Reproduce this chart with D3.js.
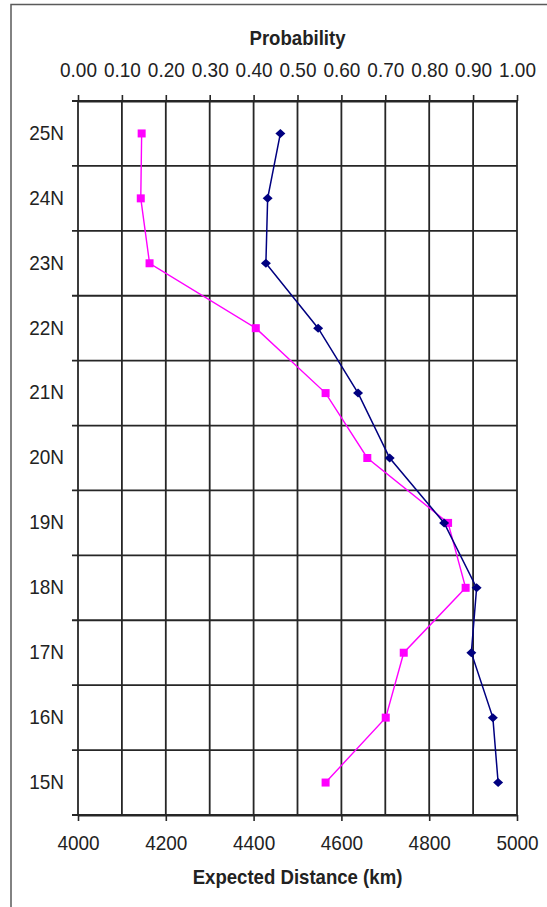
<!DOCTYPE html>
<html>
<head>
<meta charset="utf-8">
<script src="https://cdn.jsdelivr.net/npm/d3@7/dist/d3.min.js"></script>
<style>
  html, body { margin: 0; padding: 0; background: #fff; }
  svg { display: block; }
  text { font-family: "Liberation Sans", Arial, sans-serif; fill: #222; }
</style>
</head>
<body>
<div id="chart"></div>
<script>
// Latitude bands, listed from top to bottom
const latitudes = ["25N", "24N", "23N", "22N", "21N", "20N", "19N", "18N", "17N", "16N", "15N"];

// Expected distance (km) per latitude — navy diamonds, bottom axis
const expectedDistance = [4461, 4432, 4428, 4547, 4638, 4710, 4834, 4908, 4896, 4945, 4957];

// Probability per latitude — magenta squares, top axis
const probability = [0.145, 0.143, 0.163, 0.405, 0.564, 0.659, 0.843, 0.883, 0.742, 0.701, 0.564];

// Axis ticks
const probTicks = [0, 0.1, 0.2, 0.3, 0.4, 0.5, 0.6, 0.7, 0.8, 0.9, 1.0];
const distGrid = [4000, 4100, 4200, 4300, 4400, 4500, 4600, 4700, 4800, 4900, 5000];
const distTicks = [4000, 4200, 4400, 4600, 4800, 5000];

const W = 547, H = 907;
const plotLeft = 78, plotRight = 517, plotTop = 101, plotBottom = 815;
const narrow = 0.95;   // slightly condensed lettering

const svg = d3.select("#chart").append("svg")
  .attr("width", W).attr("height", H);

// outer chart frame
svg.append("rect")
  .attr("x", 11).attr("y", 4.5)
  .attr("width", W + 20).attr("height", H + 20)
  .attr("fill", "#fff")
  .attr("stroke", "#5a5a5a").attr("stroke-width", 1.5);

const xDist = d3.scaleLinear().domain([4000, 5000]).range([plotLeft, plotRight]);
const xProb = d3.scaleLinear().domain([0, 1]).range([plotLeft, plotRight]);
const y = d3.scaleBand().domain(latitudes).range([plotTop, plotBottom]).padding(0);

const gridColor = "#262626";
const boundaries = latitudes.map(d => y(d)).concat([plotBottom]);

// vertical grid lines
svg.append("g").selectAll("line").data(distGrid).join("line")
  .attr("x1", d => xDist(d)).attr("x2", d => xDist(d))
  .attr("y1", plotTop).attr("y2", plotBottom)
  .attr("stroke", gridColor).attr("stroke-width", 1.8);

// horizontal grid lines at band boundaries, with small left ticks
svg.append("g").selectAll("line").data(boundaries).join("line")
  .attr("x1", plotLeft - 6).attr("x2", plotRight)
  .attr("y1", d => d).attr("y2", d => d)
  .attr("stroke", gridColor).attr("stroke-width", 1.8);

const tickFont = g => g.selectAll("text")
  .attr("font-size", 20).attr("fill", "#222")
  .attr("font-family", "Liberation Sans, Arial, sans-serif");

// top axis: probability
const topAxis = svg.append("g")
  .attr("transform", `translate(0,${plotTop})`)
  .call(d3.axisTop(xProb).tickValues(probTicks).tickFormat(d3.format(".2f"))
    .tickSizeInner(6).tickSizeOuter(0).tickPadding(18));
topAxis.select(".domain").attr("stroke", gridColor).attr("stroke-width", 1.8);
topAxis.selectAll(".tick line").attr("stroke", gridColor).attr("stroke-width", 1.6);
tickFont(topAxis);
topAxis.selectAll("text").attr("transform", `scale(${narrow},1)`);

// bottom axis: expected distance
const bottomAxis = svg.append("g")
  .attr("transform", `translate(0,${plotBottom})`)
  .call(d3.axisBottom(xDist).tickValues(distTicks).tickFormat(d3.format("d"))
    .tickSizeInner(6).tickSizeOuter(0).tickPadding(15));
bottomAxis.select(".domain").attr("stroke", gridColor).attr("stroke-width", 1.8);
bottomAxis.selectAll(".tick line").attr("stroke", gridColor).attr("stroke-width", 1.6);
tickFont(bottomAxis);
bottomAxis.selectAll("text").attr("transform", `scale(${narrow},1)`);

// left axis: latitude labels centred in each band
const leftAxis = svg.append("g")
  .attr("transform", `translate(${plotLeft},0)`)
  .call(d3.axisLeft(y).tickSize(0).tickPadding(14));
leftAxis.select(".domain").remove();
tickFont(leftAxis);
leftAxis.selectAll("text")
  .attr("x", -14 / narrow)
  .attr("transform", `scale(${narrow},1)`);

// axis titles
const title = (cx, baseline, label) => svg.append("text")
  .attr("transform", `translate(${cx},${baseline}) scale(0.93,1)`)
  .attr("text-anchor", "middle")
  .attr("font-size", 20).attr("font-weight", "bold")
  .attr("fill", "#111")
  .text(label);

title((plotLeft + plotRight) / 2, 45, "Probability");
title((plotLeft + plotRight) / 2, 884, "Expected Distance (km)");

const cy = d => y(d) + y.bandwidth() / 2;

// probability series (magenta squares)
const probData = latitudes.map((lat, i) => ({ lat, v: probability[i] }));
svg.append("path")
  .datum(probData)
  .attr("fill", "none")
  .attr("stroke", "#ff00ff").attr("stroke-width", 1.4)
  .attr("d", d3.line().x(d => xProb(d.v)).y(d => cy(d.lat)));
svg.append("g").selectAll("rect").data(probData).join("rect")
  .attr("x", d => xProb(d.v) - 4).attr("y", d => cy(d.lat) - 4)
  .attr("width", 8).attr("height", 8)
  .attr("fill", "#ff00ff");

// expected distance series (navy diamonds)
const distData = latitudes.map((lat, i) => ({ lat, v: expectedDistance[i] }));
svg.append("path")
  .datum(distData)
  .attr("fill", "none")
  .attr("stroke", "#000080").attr("stroke-width", 1.5)
  .attr("d", d3.line().x(d => xDist(d.v)).y(d => cy(d.lat)));
const diamond = "M0,-4.5L5,0L0,4.5L-5,0Z";
svg.append("g").selectAll("path").data(distData).join("path")
  .attr("transform", d => `translate(${xDist(d.v)},${cy(d.lat)})`)
  .attr("d", diamond)
  .attr("fill", "#000080");
</script>
</body>
</html>
